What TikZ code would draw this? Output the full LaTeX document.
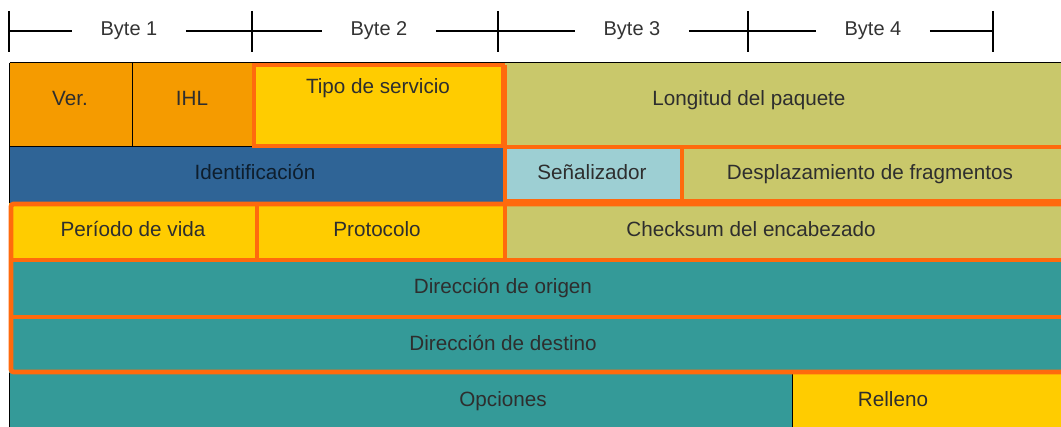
\documentclass[tikz,border=0pt]{standalone}
\usepackage{fontspec}
\setmainfont{Liberation Sans}

\definecolor{cNaranja}{HTML}{F59B00}
\definecolor{cAmarillo}{HTML}{FFCC00}
\definecolor{cOliva}{HTML}{C9C86B}
\definecolor{cAzul}{HTML}{2F6496}
\definecolor{cCeleste}{HTML}{9DCFD3}
\definecolor{cTeal}{HTML}{349A98}
\definecolor{cBorde}{HTML}{FF6A0D}

\tikzset{every picture/.style={line width=0.75pt}}
\tikzset{
campo/.style={text=black!82, font=\fontsize{15.5}{18}\selectfont, inner sep=0pt, text height=11pt, text depth=3pt},
regla/.style={text=black!80, font=\fontsize{15}{18}\selectfont, inner ysep=0pt, inner xsep=21pt},
borde/.style={draw=cBorde, line width=3.6pt}}

\begin{document}
\begin{tikzpicture}[x=0.75pt,y=0.75pt,yscale=-1,xscale=1]
            \useasboundingbox (0,0) rectangle (1061,427); %same size as the reference
            
            %Shape: Rectangle [fills of the rows]
            \fill [cNaranja] (9,63) rectangle (252,147) ;
            \fill [cAmarillo] (252,63) rectangle (505,147) ;
            \fill [cOliva] (505,63) rectangle (1061,147) ;
            \fill [cAzul] (9,147) rectangle (505,203) ;
            \fill [cCeleste] (505,147) rectangle (682,203) ;
            \fill [cOliva] (682,147) rectangle (1061,203) ;
            \fill [cAmarillo] (9,203) rectangle (505,260) ;
            \fill [cOliva] (505,203) rectangle (1061,260) ;
            \fill [cTeal] (9,260) rectangle (1061,373) ;
            \fill [cTeal] (9,373) rectangle (792,427) ;
            \fill [cAmarillo] (792,373) rectangle (1061,427) ;
            %Straight Lines [thin black edges]
            \draw    (9.5,63) -- (1061,63) ;
            \draw    (9.5,63) -- (9.5,203) ;
            \draw    (9.5,373) -- (9.5,427) ;
            \draw    (132,63) -- (132,147) ;
            \draw    (9.5,147) -- (252,147) ;
            \draw    (792,373) -- (792,427) ;
            %Shape: Rectangle [orange frames]
            \draw [borde]  (254,65) rectangle (503,146) ;
            \draw [borde]  (505,65) -- (505,258) ;
            \draw [borde]  (505,147) -- (1061,147) ;
            \draw [borde]  (505,201) -- (1061,201) ;
            \draw [borde]  (682,147) -- (682,201) ;
            \draw [borde, rounded corners=2]  (1061,204) -- (11,204) -- (11,372) -- (1061,372) ;
            \draw [borde]  (11,260) -- (1061,260) ;
            \draw [borde]  (11,317) -- (1061,317) ;
            \draw [borde]  (257,204) -- (257,260) ;
            
            %Text fields
            \node [campo] (ver) at (70,100) {Ver.};
            \node [campo] (ihl) at (192,100) {IHL};
            \node [campo] (tipo) at (378,88) {Tipo de servicio};
            \node [campo] (longitud) at (749,100) {Longitud del paquete};
            \node [campo, text=cAzul!30!black] (ident) at (255,174) {Identificación};
            \node [campo] (senal) at (592,174) {Señalizador};
            \node [campo] (despl) at (870,174) {Desplazamiento de fragmentos};
            \node [campo] (vida) at (133,231) {Período de vida};
            \node [campo] (proto) at (377,231) {Protocolo};
            \node [campo] (check) at (751,231) {Checksum del encabezado};
            \node [campo] (origen) at (503,288) {Dirección de origen};
            \node [campo] (destino) at (503,345) {Dirección de destino};
            \node [campo] (opciones) at (503,401) {Opciones};
            \node [campo] (relleno) at (893,401) {Relleno};
            
            %Byte ruler
            \foreach \x [count=\i from 0] in {9,252,498,748,993} {
              \draw [line width=1pt]    (\x,11) -- (\x,52) ;
              \coordinate (t\i) at (\x,31);
            }
            \node [regla] (b1) at (129,31) {Byte 1};
            \node [regla] (b2) at (379,31) {Byte 2};
            \node [regla] (b3) at (632,31) {Byte 3};
            \node [regla] (b4) at (873,31) {Byte 4};
            \draw [line width=1pt]    (t0) -- (b1) -- (t1) -- (b2) -- (t2) -- (b3) -- (t3) -- (b4) -- (t4) ;
            \end{tikzpicture}
\end{document}
